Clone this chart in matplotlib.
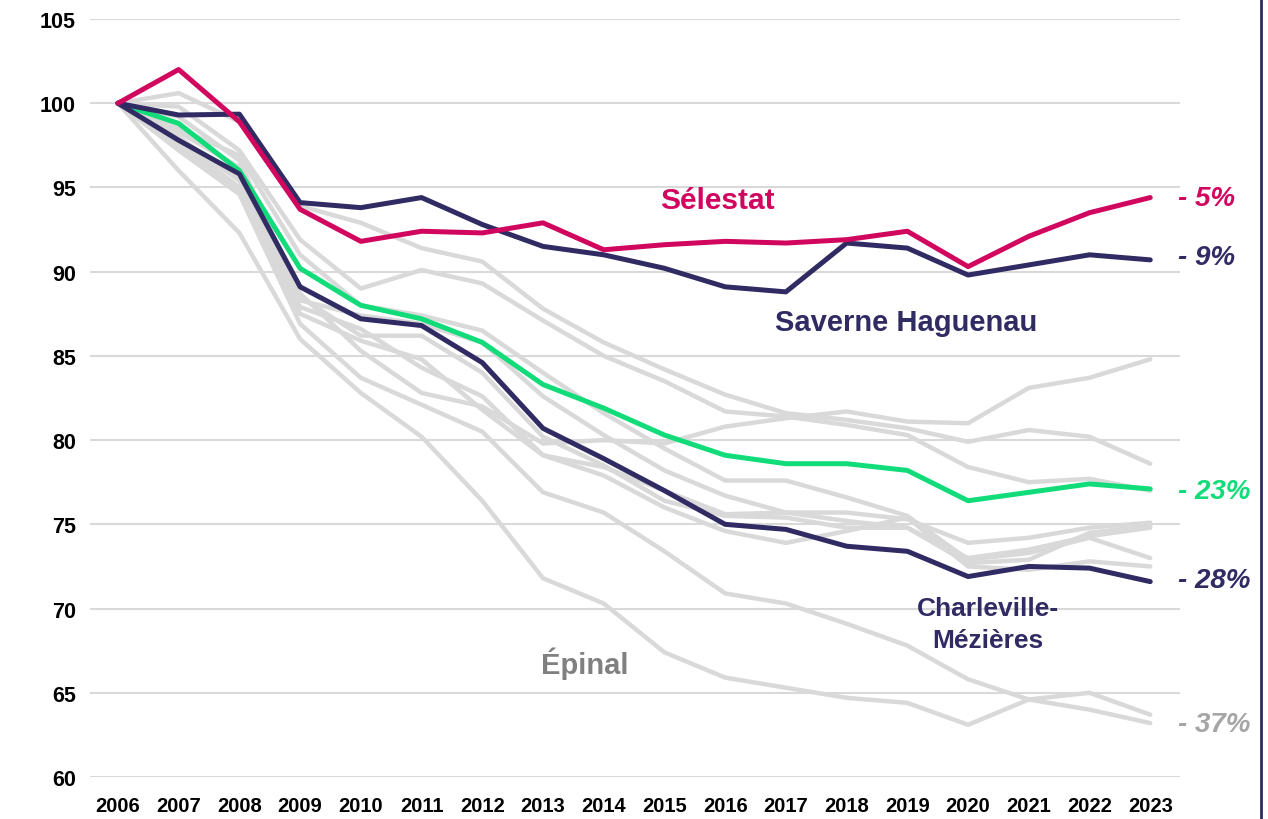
import matplotlib
matplotlib.use("Agg")
import matplotlib.pyplot as plt
from matplotlib.lines import Line2D

years = list(range(2006, 2024))
y_ticks = [60, 65, 70, 75, 80, 85, 90, 95, 100, 105]

selestat = [100, 102.0, 98.9, 93.7, 91.8, 92.4, 92.3, 92.9, 91.3, 91.6, 91.8, 91.7, 91.9, 92.4, 90.3, 92.1, 93.5, 94.4]
saverne = [100, 99.3, 99.35, 94.1, 93.8, 94.4, 92.8, 91.5, 91.0, 90.2, 89.1, 88.8, 91.7, 91.4, 89.8, 90.4, 91.0, 90.7]
charleville = [100, 97.8, 95.8, 89.1, 87.2, 86.8, 84.6, 80.7, 78.9, 77.0, 75.0, 74.7, 73.7, 73.4, 71.9, 72.5, 72.4, 71.6]
average = [100, 98.8, 96.0, 90.2, 88.0, 87.2, 85.8, 83.3, 81.9, 80.3, 79.1, 78.6, 78.6, 78.2, 76.4, 76.9, 77.4, 77.1]

gray_a = [100, 99.2, 96.6, 88.7, 85.3, 82.8, 82.0, 79.8, 80.0, 79.8, 80.8, 81.3, 81.7, 81.1, 81.0, 83.1, 83.7, 84.8]
gray_b = [100, 100.6, 98.9, 93.9, 92.9, 91.4, 90.6, 87.8, 85.8, 84.2, 82.7, 81.6, 81.2, 80.7, 79.9, 80.6, 80.2, 78.6]
gray_c = [100, 99.8, 97.2, 91.9, 89.0, 90.1, 89.3, 87.1, 85.0, 83.5, 81.7, 81.4, 80.9, 80.3, 78.4, 77.5, 77.7, 77.0]
gray_d = [100, 97.2, 94.6, 86.9, 83.7, 82.1, 80.5, 76.9, 75.7, 73.4, 70.9, 70.3, 69.1, 67.8, 65.8, 64.6, 64.0, 63.2]
epinal = [100, 96.0, 92.3, 86.0, 82.8, 80.2, 76.4, 71.8, 70.3, 67.4, 65.9, 65.3, 64.7, 64.4, 63.1, 64.6, 65.0, 63.7]
gray_f = [100, 98.5, 96.9, 91.0, 88.0, 87.4, 86.5, 84.0, 81.6, 79.5, 77.6, 77.6, 76.6, 75.5, 72.9, 73.3, 74.2, 73.0]
gray_g = [100, 98.0, 95.4, 88.3, 87.4, 86.9, 85.8, 82.6, 80.3, 78.2, 76.7, 75.7, 75.7, 75.3, 73.9, 74.2, 74.8, 75.1]
gray_h = [100, 97.8, 95.0, 87.9, 86.6, 84.3, 82.6, 79.1, 78.4, 77.0, 75.6, 75.7, 75.2, 74.8, 72.7, 72.9, 74.5, 74.9]
gray_i = [100, 97.5, 94.8, 87.5, 85.9, 84.8, 81.8, 79.1, 77.9, 76.0, 74.6, 73.9, 74.6, 75.4, 72.5, 72.3, 72.8, 72.5]
gray_j = [100, 98.3, 96.2, 88.5, 86.2, 86.2, 84.0, 80.2, 78.5, 76.4, 75.5, 75.4, 74.8, 74.8, 73.0, 73.5, 74.3, 74.8]
gray_series = [gray_a, gray_b, gray_c, gray_d, epinal, gray_f, gray_g, gray_h, gray_i, gray_j]

PINK = "#D1065F"
NAVY = "#302B63"
GREEN = "#12DC7A"
LGRAY = "#D9D9D9"

plt.rcParams['font.family'] = ['Liberation Sans', 'DejaVu Sans']

fig = plt.figure(figsize=(12.68, 8.20), dpi=100)
ax = fig.add_axes([90 / 1268, (820 - 778) / 820, (1180 - 90) / 1268, (778 - 20) / 820])

for s in gray_series:
    ax.plot(years, s, color=LGRAY, lw=3.2, solid_capstyle='round', solid_joinstyle='round', zorder=2)
ax.plot(years, average, color=GREEN, lw=3.6, solid_capstyle='round', solid_joinstyle='round', zorder=3)
ax.plot(years, charleville, color=NAVY, lw=3.6, solid_capstyle='round', solid_joinstyle='round', zorder=4)
ax.plot(years, saverne, color=NAVY, lw=3.6, solid_capstyle='round', solid_joinstyle='round', zorder=4)
ax.plot(years, selestat, color=PINK, lw=3.6, solid_capstyle='round', solid_joinstyle='round', zorder=5)

ax.set_xlim(2005.54, 2023.49)
ax.set_ylim(60, 105)
ax.set_yticks(y_ticks)
ax.set_xticks(years)
ax.set_xticklabels([str(y) for y in years])
ax.grid(axis='y', color=LGRAY, lw=1.5, zorder=0)
ax.set_axisbelow(True)
for sp in ax.spines.values():
    sp.set_visible(False)
ax.tick_params(axis='both', length=0)
ax.tick_params(axis='y', pad=10, labelsize=15.5)
ax.tick_params(axis='x', pad=14, labelsize=14.5)
for lab in ax.get_yticklabels() + ax.get_xticklabels():
    lab.set_fontweight('bold')

ax.text(2015.88, 94.25, "Sélestat", color=PINK, fontsize=21.5, fontweight='bold', ha='center', va='center')
ax.text(2018.98, 87.0, "Saverne Haguenau", color=NAVY, fontsize=21, fontweight='bold', ha='center', va='center')
ax.text(2020.32, 69.1, "Charleville-\nMézières", color=NAVY, fontsize=19, fontweight='bold', ha='center', va='center', linespacing=1.42)
ax.text(2013.69, 66.8, "Épinal", color="#808080", fontsize=21, fontweight='bold', ha='center', va='center')

right_x = 2023.45
ax.text(right_x, selestat[-1], "- 5%", color=PINK, fontsize=20, fontweight='bold', style='italic', ha='left', va='center', clip_on=False)
ax.text(right_x, 90.85, "- 9%", color=NAVY, fontsize=20, fontweight='bold', style='italic', ha='left', va='center', clip_on=False)
ax.text(right_x, 76.95, "- 23%", color=GREEN, fontsize=20, fontweight='bold', style='italic', ha='left', va='center', clip_on=False)
ax.text(right_x, 71.7, "- 28%", color=NAVY, fontsize=20, fontweight='bold', style='italic', ha='left', va='center', clip_on=False)
ax.text(right_x, 63.15, "- 37%", color="#A6A6A6", fontsize=20, fontweight='bold', style='italic', ha='left', va='center', clip_on=False)

fig.add_artist(Line2D([1261 / 1268, 1261 / 1268], [0, 1], transform=fig.transFigure, color=NAVY, lw=2))

fig.savefig("out.png", dpi=100)
